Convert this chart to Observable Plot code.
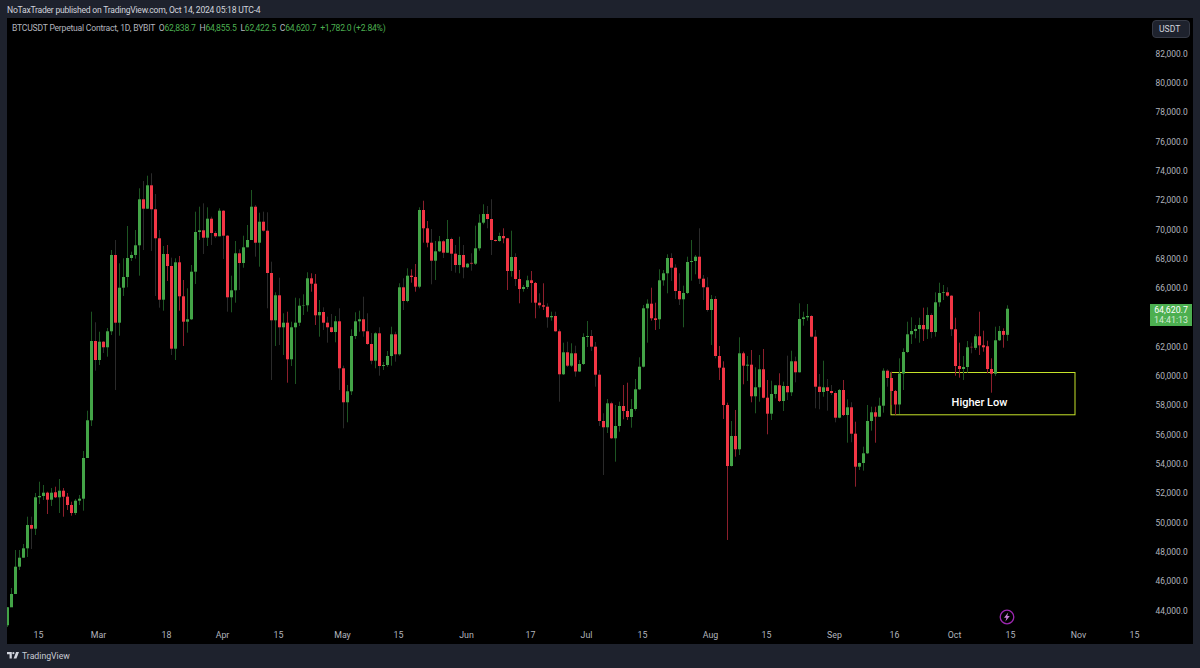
<!DOCTYPE html>
<html>
<head>
<meta charset="utf-8">
<script src="https://cdn.jsdelivr.net/npm/d3@7"></script>
<script src="https://cdn.jsdelivr.net/npm/@observablehq/plot@0.6"></script>
<style>
html,body{margin:0;padding:0;background:#1e222d;}
#page{position:relative;width:1200px;height:668px;background:#1e222d;overflow:hidden;font-family:Roboto,sans-serif;}
#panel{position:absolute;left:7px;top:18px;width:1186px;height:626px;background:#000;}
#chart{position:absolute;left:0;top:18px;}
.t{position:absolute;white-space:nowrap;}
#pub{left:7px;top:3px;font-size:8.6px;line-height:14px;color:#d1d4dc;letter-spacing:-0.24px;}
#legend{left:12px;top:21px;font-size:8.6px;line-height:14px;color:#b2b5be;letter-spacing:-0.22px;}
#legend b{font-weight:400;color:#4caf50;}
#cur{left:1152px;top:20px;width:38px;height:18px;box-sizing:border-box;background:#1e222d;border:1px solid #363a45;border-radius:4px;font-size:8.6px;line-height:16px;color:#d1d4dc;padding-left:6px;}
#tag{left:1150px;top:304px;width:42px;height:21px;background:#4caf50;text-align:center;font-size:8.8px;line-height:10px;padding-top:0.5px;color:#fff;}
#tag div+div{color:#d5ecd6;}
#brand{left:22px;top:649px;font-size:8.7px;line-height:14px;color:#c8cbd3;}
#logo{position:absolute;left:7px;top:652px;}
#bolt{position:absolute;left:999px;top:609px;}
</style>
</head>
<body>
<div id="page">
  <div id="panel"></div>
  <div id="chart"></div>
  <div class="t" id="pub">NoTaxTrader published on TradingView.com, Oct 14, 2024 05:18 UTC-4</div>
  <div class="t" id="legend">BTCUSDT Perpetual Contract, 1D, BYBIT &nbsp;O<b>62,838.7</b> &nbsp;H<b>64,855.5</b> &nbsp;L<b>62,422.5</b> &nbsp;C<b>64,620.7</b> &nbsp;<b>+1,782.0 (+2.84%)</b></div>
  <div class="t" id="cur">USDT</div>
  <div class="t" id="tag"><div>64,620.7</div><div>14:41:13</div></div>
  <svg id="logo" width="12" height="7" viewBox="0 0 14 8"><path fill="#d1d4dc" d="M0 0h5.6v7.6H3V2.6H0z"/><circle cx="7.4" cy="1.3" r="1.3" fill="#d1d4dc"/><path fill="#d1d4dc" d="M10.6 0H14l-3 7.6H7.7z"/></svg>
  <div class="t" id="brand">TradingView</div>
  <svg id="bolt" width="16" height="16" viewBox="0 0 16 16"><circle cx="8" cy="8" r="6.8" fill="none" stroke="#9c27b0" stroke-width="1.3"/><path fill="#c77fd6" d="M9.2 3.6 5 8.8h2.4l-1 3.6 4.4-5.4H8.3z"/></svg>
</div>
<script>
const firstDay = new Date(Date.UTC(2024, 1, 7));
const lastAxisDay = new Date(Date.UTC(2024, 10, 18));

const opens = [
43024,44252,45160,47022,47636,48277,49867,49614,51757,51845,
52070,51593,52100,51757,52207,51798,51231,50686,51525,51661,
54438,57010,62419,61123,62372,61990,63081,68286,63668,66056,
66785,68082,68286,68948,72086,71445,73041,71404,69426,65237,
68355,67536,61894,67788,65469,63736,63900,67147,69855,69971,
69467,70763,69787,69562,71308,69603,65400,65878,68403,67741,
68811,69310,71581,69125,70558,69944,67058,63832,65537,63354,
63668,61171,63354,63668,64827,64855,66697,66328,64172,64398,
63668,63354,63033,63763,60557,58238,58988,62761,63763,63900,
63081,62215,61075,62945,60714,60782,61396,62876,61512,66083,
65148,66874,66785,66124,71356,70108,69125,67897,68539,69221,
68443,69378,68375,67604,68286,67447,67750,67693,68743,70490,
71083,70742,69310,69241,69583,69426,67195,68150,66649,65967,
66103,66560,66376,65032,64855,64760,64036,64125,63081,60148,
61648,60735,61580,60338,60850,62692,62761,62031,60121,56962,
56532,58169,55782,56621,57985,57644,57235,57780,59124,60666,
64650,64964,63968,63900,66560,67038,68082,67420,65830,65264,
65694,67809,67877,68170,66670,66083,64534,65285,61396,60598,
58053,53892,55939,55031,61580,60735,60803,58647,59261,60489,
58551,57460,58804,59397,58326,59350,58920,61035,60284,63920,
64036,64125,62713,59302,58940,59261,59008,58872,57187,59077,
57371,57896,56095,53844,54097,54758,56962,57556,57255,58005,
60393,59895,59008,58088,60202,61669,62876,63102,63238,63511,
63218,64193,63033,65059,65694,65741,65510,63218,60714,60509,
60646,62020,61950,62741,62126,62060,60509,60189,62468,63102,
62838.7];

const highs = [
44270,45569,48161,48161,48571,50433,50433,52050,52821,52596,
52139,52391,52480,53005,52391,52050,51456,51641,51914,54915,
57664,64418,63695,63054,62419,63306,68627,69310,67720,68061,
70265,68511,69992,72837,73335,73696,73860,72448,69992,68900,
68969,68102,68061,68218,66581,66014,67604,71240,71581,71813,
71540,70899,69923,71472,71356,69651,66874,69241,68675,69603,
70333,72721,71697,71172,71240,71199,67830,65741,66738,64309,
64418,63736,65373,65333,65605,67106,67038,66990,65216,64718,
64077,64261,64125,64650,60735,59418,63218,64377,64487,65442,
64309,62965,63013,63354,60986,61737,63395,63054,66356,66697,
67379,67311,67672,71540,71990,70606,70060,69241,69583,69310,
70674,69467,68969,69535,68969,67741,68403,70285,71063,71745,
71629,72086,69350,69808,70108,69446,69944,68403,67263,66240,
66874,67195,66444,65673,66356,64991,64418,64418,63218,62304,
62372,62263,62099,61123,62945,63784,63170,62351,60441,57487,
58463,58278,58053,58278,59418,59575,58463,59827,61307,64875,
65264,66056,65032,67311,67263,68334,68403,67652,67038,66192,
68170,69310,68286,70108,66922,66765,65558,65489,62078,61035,
58211,56962,57712,62672,61690,61396,61805,60625,61464,61874,
59759,59711,59418,60216,59643,61417,61758,61349,64991,64418,
64944,64193,63170,60168,61075,59827,59418,59008,59145,59759,
58442,58238,56914,54131,55209,58053,57937,57937,58551,60557,
60489,60325,59077,61239,61921,63736,64036,63511,64009,64691,
64718,64309,65741,66397,66240,66083,65558,64009,62304,61396,
62419,62304,62897,64418,63123,62440,61239,63395,63443,63286,
64855.5];

const lows = [
42908,44273,45160,46797,47636,47684,48230,49185,51300,51572,
50617,51163,51709,50686,50433,50890,50501,50549,51231,50842,
54438,56621,60393,60782,61601,61349,62829,59077,62781,65489,
66083,67877,68034,66874,68627,71424,68559,65489,64691,64487,
66513,61464,61123,64487,62078,62986,63852,66308,69310,68355,
68900,68969,69446,69562,68013,64418,64377,65032,65899,67420,
68811,69310,68170,67488,69876,64650,59759,62078,62147,61464,
59575,60714,59486,63443,64193,64418,65783,63511,62713,63170,
62304,62986,62331,59077,56464,56873,58736,62556,63054,62713,
62147,60830,60557,60052,60441,60666,60735,61007,61417,64534,
65059,66397,65783,66014,69125,68811,66287,66581,68491,68082,
68423,67195,67079,67038,66697,67399,67215,67604,68580,70380,
70108,68286,69193,69193,69084,65899,66806,66172,64991,65783,
65967,65032,63968,64650,64534,63327,63804,63033,58278,60100,
60646,60646,59984,60304,60782,62010,61737,59302,56621,53278,
56143,55734,54185,56232,57078,57030,56505,57664,59077,60618,
62304,63804,63170,63238,66192,65673,66513,65285,64875,63354,
65626,66533,66970,66308,65216,64418,62147,61239,59759,57098,
48844,53858,54526,54642,59465,59691,58238,57487,58278,58510,
56054,57030,58510,58258,57644,58394,58667,59602,60270,63463,
63804,62658,57828,57760,58620,57664,58736,56873,57146,57303,
55481,55509,52480,53619,53571,54711,56300,55481,57235,57528,
59302,58053,57371,57440,59077,61601,62215,62604,62304,62419,
62556,62604,62713,64760,65216,65421,62761,60052,59916,59759,
60257,61580,61805,61464,61690,60216,58893,60032,62419,61962,
62422.5];

const closes = [
44252,45160,47022,47636,48277,49867,49614,51757,51845,52070,
51593,52070,51757,52207,51798,51231,50686,51525,51661,54438,
57010,62419,61123,62372,61990,63081,68286,63668,66056,66785,
68082,68286,68948,72086,71445,73041,71404,69426,65237,68355,
67536,61894,67788,65469,63736,63900,67147,69855,69971,69467,
70763,69787,69562,71308,69603,65400,65878,68403,67741,68811,
69310,71581,69125,70558,69944,67058,63832,65537,63354,63668,
61171,63354,63668,64827,64855,66697,66328,64172,64398,63668,
63354,63033,63763,60557,58238,58988,62761,63763,63900,63081,
62215,61075,62945,60714,60782,61396,62876,61512,66083,65148,
66874,66785,66124,71356,70108,69125,67897,68539,69221,68443,
69378,68375,67604,68286,67447,67693,67700,68743,70490,71083,
70742,69310,69241,69583,69426,67195,68150,66649,65967,66103,
66560,66376,65032,64855,64760,64036,64125,63081,60148,61648,
60735,61580,60338,60850,62692,62761,62031,60121,56962,56532,
58169,55782,56621,57985,57644,57235,57780,59124,60666,64650,
64964,63968,63852,66560,67038,68082,67420,65830,65264,65694,
67809,67877,68170,66670,66083,64534,65285,61396,60598,58053,
53892,55939,55031,61580,60735,60803,58647,59261,60489,58551,
57460,58804,59397,58326,59350,58920,61035,60284,63920,64036,
64125,62713,59302,58940,59261,59008,58872,57187,59077,57371,
57896,56095,53844,54097,54758,56962,57556,57255,58005,60393,
59895,59008,58088,60202,61669,62876,63102,63238,63511,63218,
64193,63033,65059,65694,65741,65510,63218,60714,60509,60646,
61990,61990,62741,62126,61990,60509,60189,62468,63102,62838.7,
64620.7];

// Candles whose wick reads as red in the picture; the other falling wicks read as grey.
const redWickCandles = [10,12,14,15,16,40,43,44,70,76,77,101,102,104,105,124,125,128,131,132,134,154,155,161,162,178,179,180,182,184,186,189,190,193,209,212,217,221,222,229,237,238,243,244,245,246,249];

const priceTicks = d3.range(44000, 82001, 2000);
const timeTicks = ["2024-02-15","2024-03-01","2024-03-18","2024-04-01","2024-04-15","2024-05-01","2024-05-15","2024-06-01","2024-06-17","2024-07-01","2024-07-15","2024-08-01","2024-08-15","2024-09-01","2024-09-16","2024-10-01","2024-10-15","2024-11-01","2024-11-15"].map(d => new Date(d + "T00:00:00Z"));
const zone = [{x1: new Date("2024-09-15T00:00:00Z"), x2: new Date("2024-10-31T00:00:00Z"), y1: 60270, y2: 57385}];
const zoneLabel = [{date: new Date("2024-10-07T00:00:00Z"), price: 58258, text: "Higher Low"}];

const candles = closes.map((c, i) => ({
  date: d3.utcDay.offset(firstDay, i), open: opens[i], high: highs[i], low: lows[i], close: c, i
}));
const up = candles.filter(d => d.close >= d.open);
const down = candles.filter(d => d.close < d.open);
const downRed = down.filter(d => redWickCandles.includes(d.i));
const downGrey = down.filter(d => !redWickCandles.includes(d.i));

const GREEN = "#43a447", RED = "#f23645";
const font = "Roboto,sans-serif";

const chart = Plot.plot({
  width: 1200, height: 626,
  marginLeft: 7, marginRight: 53, marginTop: 0, marginBottom: 16,
  style: {background: "transparent", fontFamily: font},
  x: {type: "utc", domain: [firstDay, lastAxisDay]},
  y: {domain: [42840, 84454]},
  marks: [
    Plot.axisY({anchor: "right", ticks: priceTicks, tickSize: 0, tickPadding: 8, label: null, dy: -0.5,
      tickFormat: d => d3.format(",.1f")(d), fill: "#b2b5be", fontSize: 8.4}),
    Plot.axisX({ticks: timeTicks, tickSize: 0, tickPadding: 3, label: null, dx: -1,
      tickFormat: d => d.getUTCDate() === 1 ? d3.utcFormat("%b")(d) : String(d.getUTCDate()),
      fill: "#b2b5be", fontSize: 8.8}),
    Plot.rect(zone, {x1: "x1", x2: "x2", y1: "y1", y2: "y2", fill: "none", stroke: "#c6e32a", strokeWidth: 1}),
    Plot.ruleX(up, {x: "date", y1: "low", y2: "high", stroke: "#1d5422", strokeWidth: 1, clip: true}),
    Plot.ruleX(downRed, {x: "date", y1: "low", y2: "high", stroke: "#8c1f2c", strokeWidth: 1, clip: true}),
    Plot.ruleX(downGrey, {x: "date", y1: "low", y2: "high", stroke: "#2a2a2a", strokeWidth: 1, clip: true}),
    Plot.ruleX(up, {x: "date", y1: "open", y2: "close", stroke: GREEN, strokeWidth: 3, clip: true}),
    Plot.ruleX(down, {x: "date", y1: "open", y2: "close", stroke: RED, strokeWidth: 3, clip: true}),
    Plot.text(zoneLabel, {x: "date", y: "price", text: "text", fill: "#fff", fontSize: 11, fontWeight: 500, stroke: "none"})
  ]
});
document.getElementById("chart").appendChild(chart);
</script>
</body>
</html>
